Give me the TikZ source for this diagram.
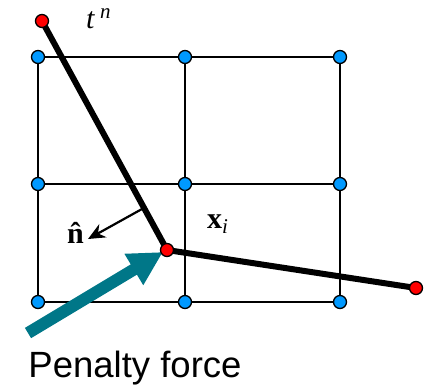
\documentclass[tikz,border=0pt]{standalone}
\usepackage{fontspec}
\setmainfont{Liberation Serif}
\newfontfamily\sanslbl{Liberation Sans}
\usepackage{xcolor}
\usepackage{tikz}
\usetikzlibrary{arrows.meta,backgrounds}
\definecolor{dotblue}{RGB}{0,153,255}
\definecolor{penteal}{RGB}{0,119,136}
\tikzset{
  nd/.style={circle,draw=black,line width=1.3pt,fill=dotblue,minimum size=13pt,inner sep=0pt},
  rd/.style={nd,fill=red},
  grd/.style={line width=2.2pt},
  seg/.style={line width=6pt},
  nrm/.style={line width=2.2pt,-{Stealth[length=17pt,width=15pt]}},
  pen/.style={penteal,line width=12pt,-{Triangle[length=34pt,width=34pt]}},
  lbl/.style={font=\fontsize{30}{33}\selectfont,inner sep=0pt}
}
\newcommand{\tlbl}{\textit{t}\,\textsuperscript{\textit{n}}}
\newcommand{\xlbl}{\textbf{x}\textsubscript{\textit{i}}}
\newcommand{\nlbl}{{\bfseries\^{n}}}

\begin{document}
\begin{tikzpicture}[x=1pt,y=-1pt]
\useasboundingbox (0,0) rectangle (426,386);
\node[nd] (g11) at (38,57) {}; \node[nd] (g12) at (185,57) {}; \node[nd] (g13) at (340,57) {};
\node[nd] (g21) at (38,184) {}; \node[nd] (g22) at (185,184) {}; \node[nd] (g23) at (340,184) {};
\node[nd] (g31) at (38,302) {}; \node[nd] (g32) at (185,302) {}; \node[nd] (g33) at (340,302) {};
\node[rd] (ta) at (42,21) {}; \node[rd] (tb) at (167,250) {}; \node[rd] (tc) at (416,288) {};
\coordinate (n0) at (142,209); \coordinate (n1) at (88,239);
\coordinate (p0) at (28,333); \coordinate (p1) at (163,252);
\begin{pgfonlayer}{background}
\draw[grd] (g11) -- (g12) -- (g13); \draw[grd] (g21) -- (g22) -- (g23); \draw[grd] (g31) -- (g32) -- (g33);
\draw[grd] (g11) -- (g21) -- (g31); \draw[grd] (g12) -- (g22) -- (g32); \draw[grd] (g13) -- (g23) -- (g33);
\draw[seg] (ta.center) -- (tb.center) -- (tc.center);
\draw[pen] (p0) -- (p1);
\end{pgfonlayer}
\draw[nrm] (n0) -- (n1);
\node[lbl,anchor=base west] (tl) at (86,28) {\tlbl};
\node[lbl,anchor=base west] (nl) at (67,243) {\nlbl};
\node[lbl,anchor=base west] (xl) at (207,228) {\xlbl};
\node[anchor=base,inner sep=0pt,font=\sanslbl\fontsize{36.5}{40}\selectfont] (pf) at (135,377) {Penalty force};
\end{tikzpicture}
\end{document}
